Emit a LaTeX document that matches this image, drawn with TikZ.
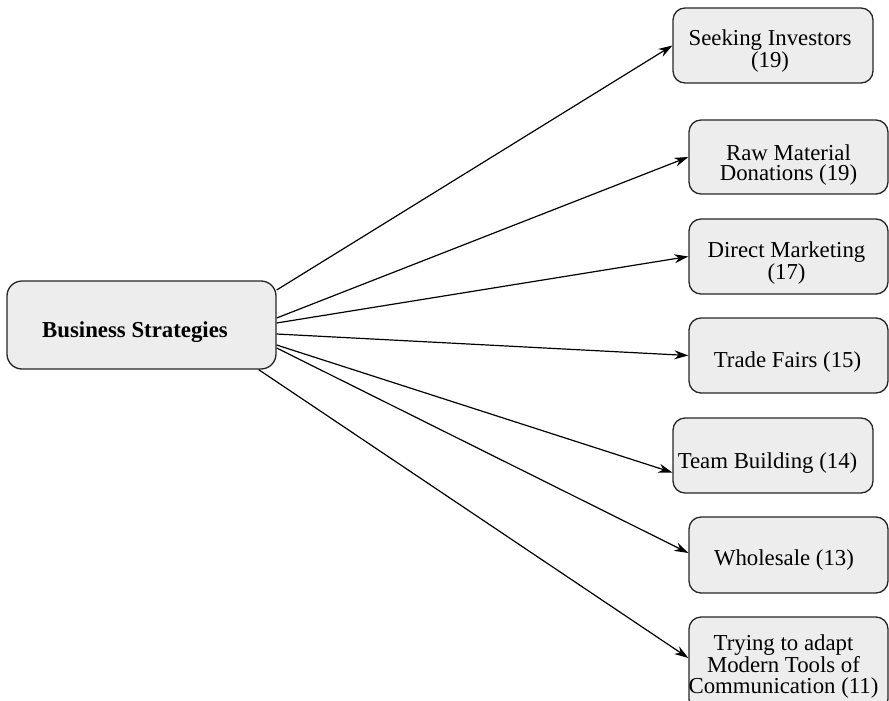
\documentclass[tikz,border=0pt]{standalone}
\usepackage{fontspec}
\setmainfont{Liberation Serif}
\usetikzlibrary{arrows.meta}
\begin{document}
\begin{tikzpicture}[x=1pt,y=-1pt,
  box/.style={draw=black!85, fill=black!7, rounded corners=12pt, line width=1.3pt, inner sep=0pt},
  rbox/.style={box, minimum width=199pt, minimum height=75pt},
  txt/.style={inner sep=0pt, align=center, font=\fontsize{22.8}{20.5}\selectfont},
  conn/.style={-{Stealth[length=14pt,width=9pt]}, line width=1.2pt}]
\useasboundingbox (0,0) rectangle (889,701);
\node[box, rounded corners=15pt, minimum width=269pt, minimum height=88pt] (c) at (141.5,325) {};
\node[rbox, minimum width=200pt] (n1) at (773,45.5) {};
\node[rbox, minimum height=74pt] (n2) at (788.5,157) {};
\node[rbox] (n3) at (788.5,256.5) {};
\node[rbox] (n4) at (788.5,355.5) {};
\node[rbox, minimum width=200pt] (n5) at (773,455.5) {};
\node[rbox, minimum height=76pt] (n6) at (788.5,555) {};
\node[rbox, minimum height=94pt] (n7) at (788.5,664) {};
\node[txt, font=\fontsize{22.8}{22}\selectfont\bfseries] (tc) at ([xshift=-6.5pt,yshift=-7pt]c.center) {Business Strategies};
\node[txt] (t1) at ([xshift=-3pt,yshift=-5.5pt]n1.center) {Seeking Investors\\(19)};
\node[txt] (t2) at ([yshift=-8pt]n2.center) {Raw Material\\Donations (19)};
\node[txt] (t3) at ([xshift=-2pt,yshift=-6.5pt]n3.center) {Direct Marketing\\(17)};
\node[txt] (t4) at ([xshift=-1pt,yshift=-6.5pt]n4.center) {Trade Fairs (15)};
\node[txt] (t5) at ([xshift=-5.5pt,yshift=-7.5pt]n5.center) {Team Building (14)};
\node[txt] (t6) at ([xshift=-4.5pt,yshift=-5.5pt]n6.center) {Wholesale (13)};
\node[txt] (t7) at ([xshift=-5pt,yshift=-2.5pt]n7.center) {Trying to adapt\\Modern Tools of\\Communication (11)};
\draw[conn] ([yshift=35pt]c.east) -- (n1.west);
\draw[conn] ([yshift=7pt]c.east) -- (n2.west);
\draw[conn] ([yshift=2pt]c.east) -- (n3.west);
\draw[conn] ([yshift=-9pt]c.east) -- (n4.west);
\draw[conn] ([yshift=-20pt]c.east) -- ([yshift=-17pt]n5.west);
\draw[conn] ([yshift=-23pt]c.east) -- ([yshift=2pt]n6.west);
\draw[conn] ([xshift=-18pt]c.south east) -- ([yshift=6pt]n7.west);
\end{tikzpicture}
\end{document}
